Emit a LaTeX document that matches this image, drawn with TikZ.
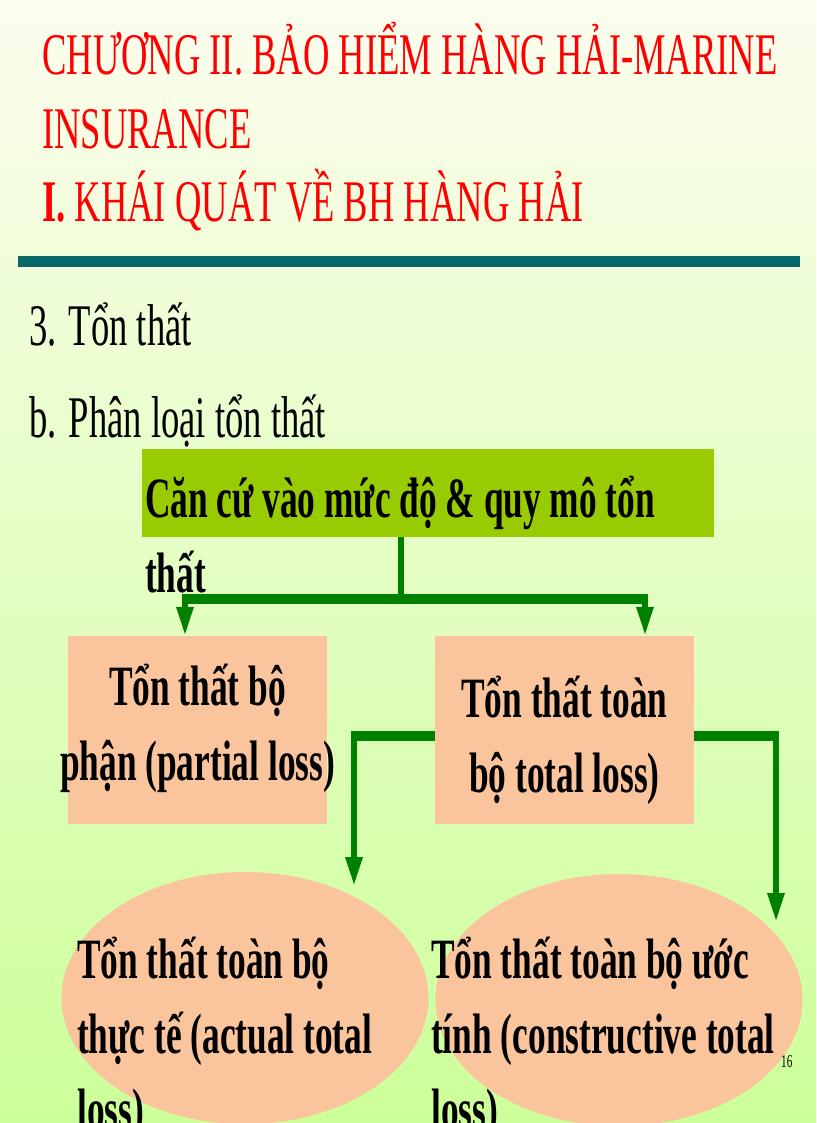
\documentclass[tikz,border=0pt]{standalone}
\usepackage{fontspec}
\setmainfont{Liberation Serif}[FakeStretch=0.62]
\usetikzlibrary{arrows.meta, shapes.geometric}

\definecolor{titlered}{RGB}{255,0,0}
\definecolor{barteal}{RGB}{8,104,104}
\definecolor{rootgreen}{RGB}{153,204,0}
\definecolor{peach}{RGB}{250,196,156}
\definecolor{linkgreen}{RGB}{0,128,0}
\definecolor{paletop}{RGB}{252,253,238}
\definecolor{palebottom}{RGB}{204,255,153}

\begin{document}
\begin{tikzpicture}
		[
			x=1pt, y=-1pt,
			title/.style={anchor=base west, align=left, text=titlered, inner sep=0pt, font=\fontsize{59}{73.5}\selectfont},
			body/.style={anchor=base west, inner sep=0pt, font=\fontsize{59}{70}\selectfont},
			rootbox/.style={rectangle, fill=rootgreen, minimum width=572pt, minimum height=88pt, inner sep=0pt},
			lossbox/.style={rectangle, fill=peach, minimum width=259pt, minimum height=188pt, inner sep=0pt},
			lossoval/.style={ellipse, fill=peach, minimum width=367pt, minimum height=252pt, inner sep=0pt},
			boxtext/.style={inner sep=0pt, font=\bfseries\fontsize{57}{75}\selectfont},
			lefttext/.style={boxtext, anchor=base west, align=left},
			midtext/.style={boxtext, anchor=base, align=center},
			bus/.style={draw=linkgreen, line width=10pt},
			stem/.style={draw=linkgreen, line width=6pt},
			drop/.style={stem, -{Triangle[length=29pt, width=16pt]}},
		]

		\useasboundingbox (0,0) rectangle (816,1123);
		\shade[top color=paletop, bottom color=palebottom] (0,0) rectangle (816,1123);

		% Heading (base = last line)
		\node[title] (head) at (42,222)
			{CHƯƠNG II. BẢO HIỂM HÀNG HẢI-MARINE\\INSURANCE\\\textbf{I.} KHÁI QUÁT VỀ BH HÀNG HẢI};
		\fill[barteal] (18,256) rectangle (800,267);
		\node[body] (sec) at (29,345) {3. Tổn thất};
		\node[body] (sub) at (29,437) {b. Phân loại tổn thất};

		% Nodes
		\node[rootbox] (root) at (428,493) {};
		\node[lossbox] (partial) at (197.5,730) {};
		\node[lossbox] (total) at (564.5,730) {};
		\node[lossoval] (actual) at (245,998) {};
		\node[lossoval] (constr) at (619,1000) {};

		% Texts (base = last line)
		\node[lefttext] (roottxt) at (145,592) {Căn cứ vào mức độ \& quy mô tổn\\thất};
		\node[midtext] (partialtxt) at (197.5,780) {Tổn thất bộ\\phận (partial loss)};
		\node[midtext] (totaltxt) at (564.5,792) {Tổn thất toàn\\bộ total loss)};
		\node[lefttext] (actualtxt) at (77,1128) {Tổn thất toàn bộ\\thực tế (actual total\\loss)};
		\node[lefttext] (constrtxt) at (431,1128) {Tổn thất toàn bộ ước\\tính (constructive total\\loss)};
		\node[anchor=base west, inner sep=0pt, font=\fontsize{18}{20}\selectfont] (pageno) at (781,1067) {16};

		% Edges
		\coordinate (busM) at (401,599);
		\coordinate (busL) at (185,599);
		\coordinate (busR) at (645,599);
		\draw[stem] (root.south -| busM) -- (busM);
		\draw[bus] ([xshift=-3pt]busL) -- ([xshift=3pt]busR);
		\foreach \from/\to in {busL/partial, busR/total}
			\draw[drop] (\from) -- (\from |- \to.north);

		\coordinate (elbowL) at (354,736);
		\coordinate (elbowR) at (776,736);
		\coordinate (hitL) at (354,886);
		\coordinate (hitR) at (776,922);
		\draw[bus] (total.west |- elbowL) -- ([xshift=-3pt]elbowL);
		\draw[bus] (total.east |- elbowR) -- ([xshift=3pt]elbowR);
		\foreach \c in {L,R}
			\draw[drop] ([yshift=5pt]elbow\c) -- (hit\c);

		\end{tikzpicture}
\end{document}
